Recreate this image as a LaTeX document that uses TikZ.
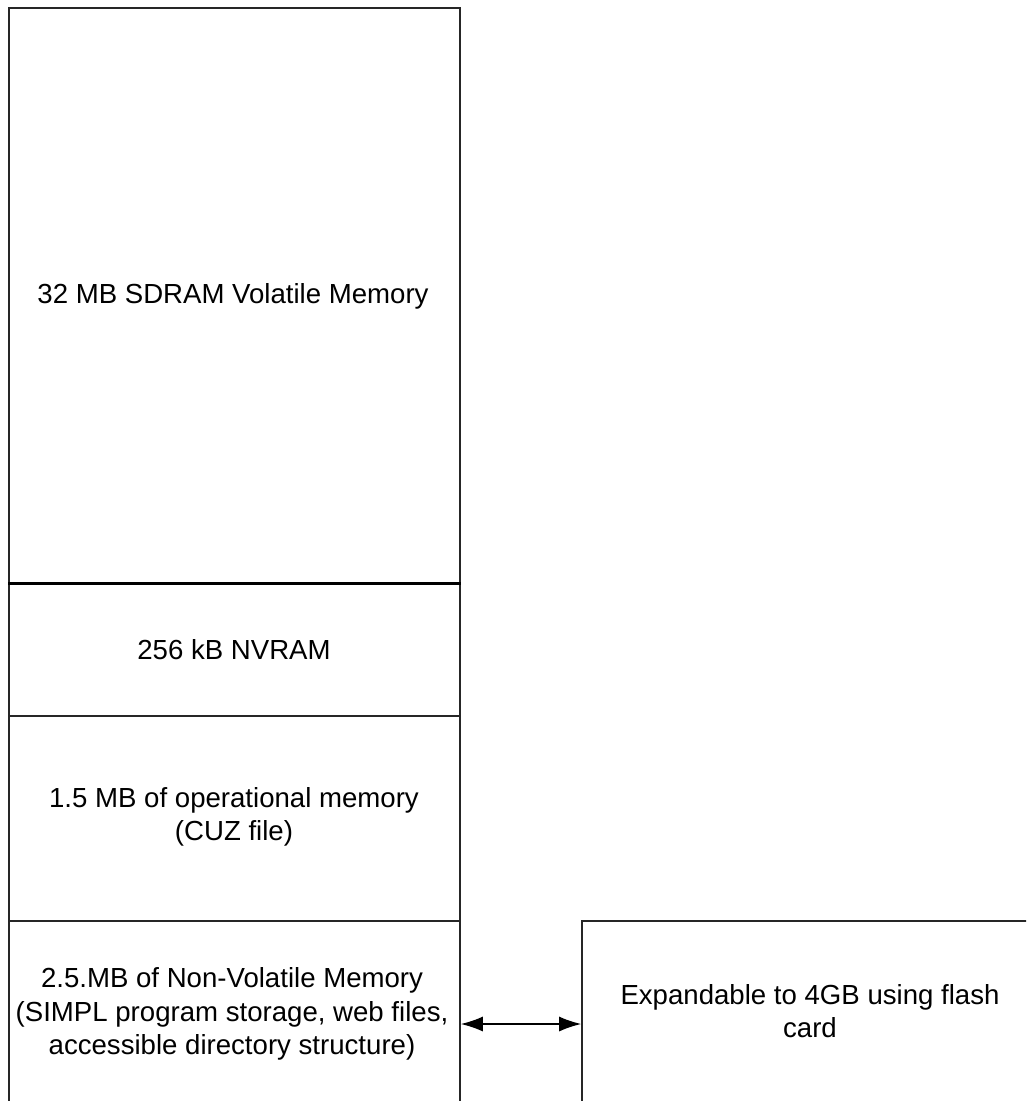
\documentclass[tikz,border=0pt]{standalone}
\usepackage{fontspec}
\setmainfont{Liberation Sans}
\usetikzlibrary{arrows.meta}
\tikzset{
  memcell/.style={draw=black!85, line width=1.6pt, inner sep=0pt},
  lbl/.style={align=center, font=\fontsize{27.6}{33.5}\selectfont, inner sep=0pt},
  link/.style={line width=1.4pt, {Latex[length=22pt,width=15pt]}-{Latex[length=22pt,width=15pt]}}
}
\begin{document}
\begin{tikzpicture}[x=1pt,y=-1pt]
\useasboundingbox (0,0) rectangle (1026,1101);
\clip (0,0) rectangle (1026,1101);
\fill[white] (0,0) rectangle (1026,1101);
\node[memcell, minimum width=451pt, minimum height=575pt] (sdram) at (234.5,295.5) {};
\node[memcell, minimum width=451pt, minimum height=133pt] (nvram) at (234.5,649.5) {};
\node[memcell, minimum width=451pt, minimum height=205pt] (oper) at (234.5,818.5) {};
\node[memcell, minimum width=451pt, minimum height=220pt] (nvm) at (234.5,1031) {};
\node[memcell, minimum width=456pt, minimum height=220pt] (flash) at (810,1031) {};
\draw[line width=3pt] (sdram.south west) -- (sdram.south east);
\node[lbl] (tsdram) at (233,296) {32 MB SDRAM Volatile Memory};
\node[lbl] (tnvram) at (234,650) {256 kB NVRAM};
\node[lbl] (toper) at (234,817) {1.5 MB of operational memory\\(CUZ file)};
\node[lbl] (tnvm) at (232,1014) {2.5.MB of Non-Volatile Memory\\(SIMPL program storage, web files,\\accessible directory structure)};
\node[lbl] (tflash) at (810,1011) {Expandable to 4GB using flash\\card};
\coordinate (ay) at (0,1024);
\draw[link] (nvm.east |- ay) -- (flash.west |- ay);
\end{tikzpicture}
\end{document}
